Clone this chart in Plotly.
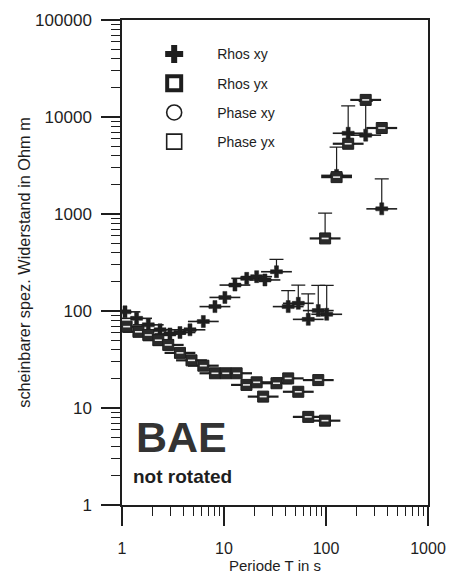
import plotly.graph_objects as go

# ---- data ----
T_xy = [1.07, 1.39, 1.81, 2.36, 2.95, 3.7, 4.64, 6.27, 8.15, 10.2, 12.8, 16.7, 20.9, 25.2,
        32.7, 42.6, 53.5, 67, 84, 101.6, 127, 165, 245, 352]
rho_xy = [98, 84, 72, 64, 58, 60, 64, 78, 111, 138, 185, 217, 226, 209,
          254, 111, 120, 82, 101, 92.5, 2500, 6800, 6500, 1130]
rho_xy_top = [None] * 14 + [341, 162, 185, 150, 184, 184, 4900, 13000, 14500, 2300]

T_yx = [1.11, 1.45, 1.81, 2.27, 2.84, 3.7, 4.8, 6.27, 8.15, 10.4, 13.3, 16.6, 20.9, 24.2,
        32.7, 42.6, 53.5, 67, 84, 97.7, 98, 127, 165, 245, 352]
rho_yx = [69, 61, 56.6, 50, 44.7, 37, 31, 27.3, 22.8, 22.8, 22.8, 17.3, 18.4, 13.1,
          18, 20.2, 14.7, 8.1, 19.4, 7.4, 560, 2400, 5300, 15000, 7700]
rho_yx_top = [None] * 20 + [1020, None, None, None, None]

x_tickvals = [1, 10, 100, 1000]
x_ticktext = ["1", "10", "100", "1000"]
y_tickvals = [1, 10, 100, 1000, 10000, 100000]
y_ticktext = ["1", "10", "100", "1000", "10000", "100000"]

legend_names = ["Rhos xy", "Rhos yx", "Phase xy", "Phase yx"]

INK = "#1e1e1e"
FONT = "Liberation Sans, Arial, sans-serif"


def err_plus(vals, tops):
    return [None if t is None else t - v for v, t in zip(vals, tops)]


fig = go.Figure()

# horizontal bars through the symbols
fig.add_trace(go.Scatter(x=T_xy, y=rho_xy, mode="markers", showlegend=False, hoverinfo="skip",
                         marker=dict(symbol="line-ew", size=22, line=dict(color=INK, width=1.6))))
fig.add_trace(go.Scatter(x=T_yx, y=rho_yx, mode="markers", showlegend=False, hoverinfo="skip",
                         marker=dict(symbol="line-ew", size=22, line=dict(color=INK, width=2.2))))

# Rhos xy crosses with upper error bars
fig.add_trace(go.Scatter(
    x=T_xy, y=rho_xy, mode="markers", showlegend=False, name="Rhos xy",
    marker=dict(symbol="cross", size=10, color=INK, line=dict(width=0.5, color=INK)),
    error_y=dict(type="data", symmetric=False, array=err_plus(rho_xy, rho_xy_top),
                 arrayminus=[0] * len(rho_xy), width=7, thickness=1.2, color=INK)))

# Rhos yx squares (dark, with a small light centre)
fig.add_trace(go.Scatter(
    x=T_yx, y=rho_yx, mode="markers", showlegend=False, name="Rhos yx",
    marker=dict(symbol="square", size=11, color="#2a2a2a", line=dict(width=1, color=INK)),
    error_y=dict(type="data", symmetric=False, array=err_plus(rho_yx, rho_yx_top),
                 arrayminus=[0] * len(rho_yx), width=7, thickness=1.2, color=INK)))
fig.add_trace(go.Scatter(x=T_yx, y=rho_yx, mode="markers", showlegend=False, hoverinfo="skip",
                         marker=dict(symbol="line-ew", size=5, line=dict(color="#e8e8e8", width=1.6))))

# legend-only entries
legend_markers = [
    dict(symbol="cross", size=15, color=INK, line=dict(width=0)),
    dict(symbol="square-open", size=14, color=INK, line=dict(width=4, color=INK)),
    dict(symbol="circle-open", size=15, color=INK, line=dict(width=1.6, color=INK)),
    dict(symbol="square-open", size=15, color=INK, line=dict(width=1.6, color=INK)),
]
for i, (nm, mk) in enumerate(zip(legend_names, legend_markers)):
    fig.add_trace(go.Scatter(x=[None], y=[None], mode="markers", name=nm, marker=mk,
                             legendgroup=f"g{i}", showlegend=True))

axis_common = dict(
    type="log", showline=True, linecolor=INK, linewidth=1.5, mirror=True,
    ticks="outside", ticklen=19, tickwidth=1.5, tickcolor=INK,
    showgrid=False, zeroline=False, automargin=False,
    minor=dict(dtick="D1", ticks="outside", ticklen=9, tickwidth=1.2, tickcolor=INK, showgrid=False),
)

# the page body adds an 8 px offset; the figure size/margins compensate for it
fig.update_layout(
    width=452, height=573,
    margin=dict(l=114, r=32, t=12, b=76),
    paper_bgcolor="white", plot_bgcolor="white",
    font=dict(family=FONT, color=INK),
    xaxis=dict(axis_common, range=[0, 3], tickvals=x_tickvals, ticktext=x_ticktext,
               ticklabelstandoff=9, tickfont=dict(family=FONT, size=16, color=INK),
               title=dict(text="Periode T in s", font=dict(family=FONT, size=15, color=INK), standoff=5)),
    yaxis=dict(axis_common, range=[0, 5], tickvals=y_tickvals, ticktext=y_ticktext,
               ticklabelstandoff=6, tickfont=dict(family=FONT, size=17, color=INK),
               title=dict(text="scheinbarer spez. Widerstand in Ohm m",
                          font=dict(family=FONT, size=16.3, color=INK), standoff=0)),
    legend=dict(x=0.03, y=0.962, xanchor="left", yanchor="top", bgcolor="rgba(0,0,0,0)",
                font=dict(family=FONT, size=14, color=INK), itemwidth=76,
                traceorder="grouped", tracegroupgap=8),
    annotations=[
        dict(text="<b>BAE</b>", xref="paper", yref="paper", x=0.194, y=0.14,
             xanchor="center", yanchor="middle",
             showarrow=False, font=dict(family=FONT, size=43, color="#333333")),
        dict(text="<b>not rotated</b>", xref="paper", yref="paper", x=0.198, y=0.058,
             xanchor="center", yanchor="middle",
             showarrow=False, font=dict(family=FONT, size=19, color=INK)),
    ],
)

fig.write_html("out.html")
